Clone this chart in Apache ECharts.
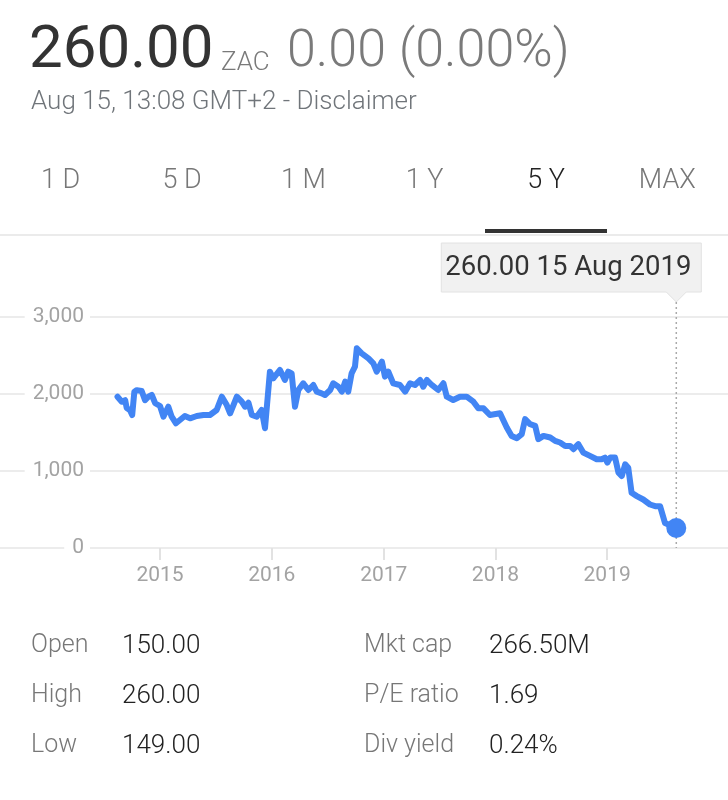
<!DOCTYPE html>
<html><head><meta charset="utf-8">
<script src="https://cdn.jsdelivr.net/npm/echarts@6/dist/echarts.min.js"></script>
<style>html,body{margin:0;padding:0;background:#fff}#c{width:728px;height:800px}</style>
</head><body><div id="c"></div>
<script>
const dates = [
'2014-08-15','2014-08-29','2014-09-09','2014-09-14','2014-09-25','2014-10-02','2014-10-09','2014-10-17','2014-11-02','2014-11-13',
'2014-11-24','2014-12-05','2014-12-16','2015-01-01','2015-01-12','2015-01-28','2015-02-08','2015-02-22','2015-03-07','2015-03-23',
'2015-04-09','2015-05-01','2015-05-23','2015-06-13','2015-07-05','2015-07-22','2015-08-07','2015-08-18','2015-09-09','2015-09-25',
'2015-10-06','2015-10-17','2015-10-28','2015-11-13','2015-11-29','2015-12-10','2015-12-26','2016-01-06','2016-01-28','2016-02-13',
'2016-02-24','2016-03-06','2016-03-17','2016-03-28','2016-04-13','2016-04-30','2016-05-16','2016-05-27','2016-06-12','2016-06-23',
'2016-07-10','2016-07-20','2016-08-06','2016-08-17','2016-08-28','2016-09-07','2016-09-18','2016-09-29','2016-10-05','2016-10-21',
'2016-11-12','2016-11-28','2016-12-09','2016-12-26','2017-01-05','2017-01-16','2017-02-01','2017-02-23','2017-03-12','2017-03-28',
'2017-04-13','2017-04-30','2017-05-10','2017-05-22','2017-06-07','2017-06-28','2017-07-15','2017-07-26','2017-08-16','2017-09-07',
'2017-09-29','2017-10-21','2017-11-06','2017-11-23','2017-12-14','2018-01-16','2018-02-07','2018-02-23','2018-03-12','2018-03-28',
'2018-04-08','2018-04-24','2018-05-11','2018-05-21','2018-06-07','2018-06-29','2018-07-15','2018-07-31','2018-08-17','2018-09-02',
'2018-09-13','2018-09-29','2018-10-15','2018-11-06','2018-11-28','2018-12-14','2018-12-25','2019-01-02','2019-01-11','2019-01-27',
'2019-02-07','2019-02-18','2019-03-01','2019-03-11','2019-03-22','2019-04-08','2019-04-29','2019-05-21','2019-06-07','2019-06-23',
'2019-07-09','2019-08-15'
];
const prices = [
1965,1900,1920,1818,1790,1727,2030,2050,2040,1920,
1965,1987,1880,1844,1705,1835,1705,1620,1662,1714,
1684,1714,1727,1727,1792,1965,1857,1749,1965,1900,
1835,1887,1727,1705,1792,1555,2290,2204,2312,2182,
2290,2268,1835,2052,2139,2052,2117,2030,2009,1987,
2052,2139,2095,2030,2160,2030,2268,2355,2593,2528,
2463,2398,2290,2420,2225,2290,2139,2117,2030,2139,
2117,2182,2095,2182,2117,2052,2139,1965,1922,1965,
1965,1900,1814,1814,1727,1749,1565,1456,1426,1478,
1674,1609,1587,1413,1456,1435,1391,1370,1326,1326,
1283,1348,1239,1196,1152,1152,1174,1109,1174,1174,
978,935,1087,1043,717,674,630,565,543,543,
326,260
];
const yTickValues = [0, 1000, 2000, 3000];
const yearTicks = ['2015-01-01','2016-01-01','2017-01-01','2018-01-01','2019-01-01'];
const tabs = ['1 D','5 D','1 M','1 Y','5 Y','MAX'];
const activeTab = '5 Y';
const statLeftLabels = ['Open','High','Low'];
const statLeftValues = ['150.00','260.00','149.00'];
const statRightLabels = ['Mkt cap','P/E ratio','Div yield'];
const statRightValues = ['266.50M','1.69','0.24%'];
const headerPrice = '260.00';
const headerCurrency = 'ZAC';
const headerChange = '0.00 (0.00%)';
const subtitle = 'Aug 15, 13:08 GMT+2 - Disclaimer';
const tipText = '260.00 15 Aug 2019';

const FONT = 'Roboto, "Liberation Sans", sans-serif';
const chart = echarts.init(document.getElementById('c'), null, {renderer: 'canvas'});
const ts = function (d) { return +echarts.time.parse(d); };
const yearStamps = yearTicks.map(ts);
const seriesData = dates.map(function (d, i) { return [ts(d), prices[i]]; });
const last = seriesData[seriesData.length - 1];

function txt(x, y, text, size, color, align, weight) {
  return {type: 'text', x: x, y: y, silent: true,
    style: {text: text, font: (weight || 'normal') + ' ' + size + 'px ' + FONT, fill: color,
      align: align || 'left', verticalAlign: 'middle'}};
}

const option = {
  animation: false,
  backgroundColor: '#fff',
  grid: {left: 0, right: 0, top: 317, bottom: 252, containLabel: false, outerBoundsMode: 'none'},
  xAxis: {
    type: 'value', min: ts('2013-07-27'), max: ts('2020-01-31'), scale: true,
    axisLine: {show: false},
    axisTick: {show: true, inside: false, customValues: yearStamps, length: 12, lineStyle: {color: '#e2e2e2', width: 2}},
    axisLabel: {show: true, customValues: yearStamps, margin: 17, color: '#a3a3a3', fontSize: 21, fontFamily: FONT,
      formatter: function (v) { return String(new Date(v).getFullYear()); }},
    splitLine: {show: false}
  },
  yAxis: {
    type: 'value', min: 0, max: 3000, interval: 1000,
    axisLine: {show: false}, axisTick: {show: false},
    axisLabel: {margin: -90, color: '#a3a3a3', fontSize: 21, fontFamily: FONT,
      backgroundColor: '#fff', padding: [0, 6, 0, 8],
      formatter: function (v) { return v.toLocaleString('en-US'); }},
    splitLine: {show: true, lineStyle: {color: '#ececec', width: 2}}
  },
  series: [
    {type: 'line', data: seriesData, showSymbol: false, symbol: 'none', z: 3,
      lineStyle: {color: '#4285f4', width: 6, join: 'round', cap: 'round'}},
    {type: 'scatter', data: [last], symbolSize: 20, z: 4, itemStyle: {color: '#4285f4', opacity: 1}}
  ]
};
chart.setOption(option);

const p = chart.convertToPixel({gridIndex: 0}, [last[0], last[1]]);
const zeroY = chart.convertToPixel({gridIndex: 0}, [last[0], 0])[1];
const px = p[0];
const boxR = px + 25, boxL = boxR - 260, boxT = 243, boxB = 292;

const graphics = [];
graphics.push(txt(29, 52, headerPrice, 60, '#333333', 'left', 'normal'));
graphics.push(txt(221, 63, headerCurrency, 26, '#7a7a7a', 'left', '300'));
graphics.push(txt(287, 53, headerChange, 52, '#7a7a7a', 'left', '300'));
graphics.push(txt(31, 102, subtitle, 26, '#70757a', 'left', '300'));
const tabW = 728 / tabs.length;
tabs.forEach(function (t, i) {
  graphics.push(txt(tabW * (i + 0.5), 181, t, 27, t === activeTab ? '#222222' : '#777777', 'center', '300'));
});
graphics.push({type: 'rect', shape: {x: 0, y: 234, width: 728, height: 2}, style: {fill: '#ebebeb'}, silent: true});
const ai = tabs.indexOf(activeTab);
graphics.push({type: 'rect', shape: {x: tabW * (ai + 0.5) - 61, y: 229, width: 122, height: 4}, style: {fill: '#333333'}, silent: true});

graphics.push({type: 'line', silent: true, z: 1, shape: {x1: px, y1: 302, x2: px, y2: zeroY},
  style: {stroke: '#aaaaaa', lineWidth: 1.5, lineDash: [2, 3]}});
graphics.push({type: 'polygon', silent: true, shape: {points: [[boxL, boxT], [boxR, boxT], [boxR, boxB], [px + 10, boxB], [px, boxB + 10], [px - 10, boxB], [boxL, boxB]]},
  style: {fill: '#f1f1f1', stroke: '#e2e2e2', lineWidth: 1}});
graphics.push(txt((boxL + boxR) / 2 - 3, (boxT + boxB) / 2 + 1, tipText, 27.5, '#333333', 'center', 'normal'));

const rows = [646, 696, 746];
rows.forEach(function (y, i) {
  graphics.push(txt(31, y, statLeftLabels[i], 25, '#777777', 'left', '300'));
  graphics.push(txt(122, y, statLeftValues[i], 26, '#222222', 'left', '300'));
  graphics.push(txt(364, y, statRightLabels[i], 25, '#777777', 'left', '300'));
  graphics.push(txt(489, y, statRightValues[i], 26, '#222222', 'left', '300'));
});
chart.setOption({graphic: graphics});
</script></body></html>
